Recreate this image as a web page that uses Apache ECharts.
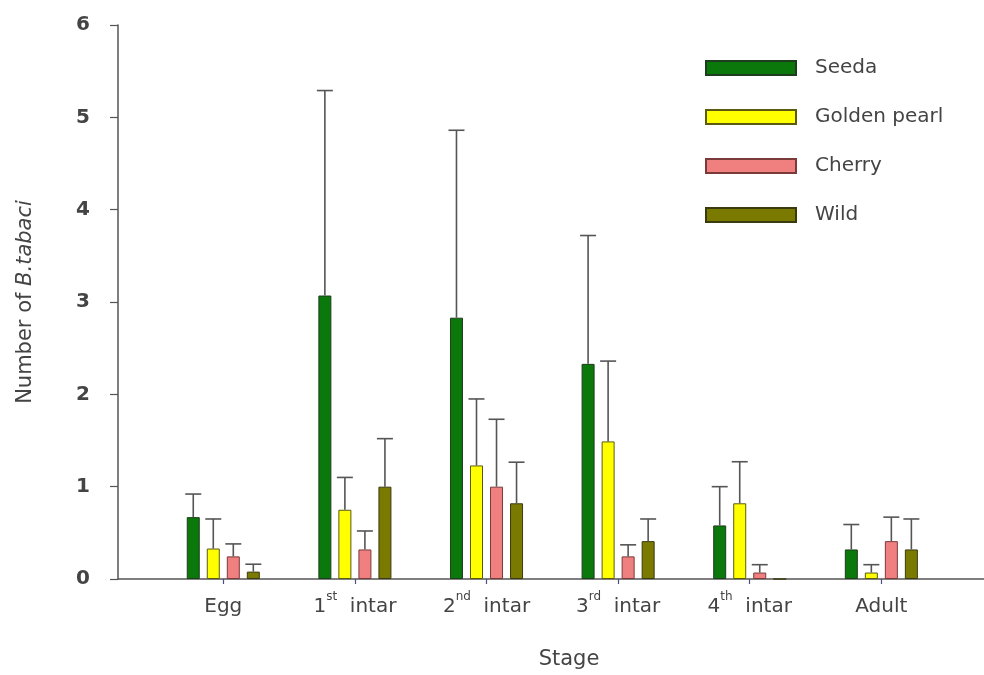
<!DOCTYPE html>
<html>
<head>
<meta charset="utf-8">
<script src="https://cdn.jsdelivr.net/npm/echarts@6/dist/echarts.min.js"></script>
<style>
html,body{margin:0;padding:0;background:#fff;}
#chart{width:984px;height:675px;}
</style>
</head>
<body>
<div id="chart"></div>
<script>
// ---- data ----
const stages = ['Egg', '1st intar', '2nd intar', '3rd intar', '4th intar', 'Adult'];
const stageLabels = ['{b|Egg}', '{b|1}{sup|st}{b|  intar}', '{b|2}{sup|nd}{b|  intar}', '{b|3}{sup|rd}{b|  intar}', '{b|4}{sup|th}{b|  intar}', '{b|Adult}'];
const seriesNames = ['Seeda', 'Golden pearl', 'Cherry', 'Wild'];
const seedaMean = [0.67, 3.07, 2.83, 2.33, 0.58, 0.32];
const seedaErr  = [0.25, 2.22, 2.03, 1.39, 0.42, 0.27];
const goldenMean = [0.33, 0.75, 1.23, 1.49, 0.82, 0.07];
const goldenErr  = [0.32, 0.35, 0.72, 0.87, 0.45, 0.085];
const cherryMean = [0.245, 0.32, 1.0, 0.245, 0.07, 0.41];
const cherryErr  = [0.135, 0.20, 0.73, 0.125, 0.085, 0.26];
const wildMean = [0.08, 1.0, 0.82, 0.41, 0, 0.32];
const wildErr  = [0.08, 0.52, 0.445, 0.24, 0, 0.33];
const yTicks = [0, 1, 2, 3, 4, 5, 6];

// ---- style ----
const FONT = 'DejaVu Sans';
const TEXT = '#444';
const colors = ['#0a780a', '#ffff00', '#f08080', '#7a7a00'];
const borders = ['#1e3d1e', '#5a5a10', '#7a3a3a', '#3a3a10'];
const BAR_W = 13;
const GAP_RATIO = 0.54;
const PITCH = BAR_W * (1 + GAP_RATIO);
const CAP = 8;

const means = [seedaMean, goldenMean, cherryMean, wildMean];
const errs = [seedaErr, goldenErr, cherryErr, wildErr];

function errRenderer(idx) {
  return function (params, api) {
    const x = api.value(0), m = api.value(1), e = api.value(2);
    if (!e) return null;
    const base = api.coord([x, m]);
    const top = api.coord([x, m + e]);
    const cx = base[0] + (idx - (seriesNames.length - 1) / 2) * PITCH;
    const st = { stroke: '#555', lineWidth: 1.6 };
    return {
      type: 'group',
      children: [
        { type: 'line', shape: { x1: cx, y1: base[1], x2: cx, y2: top[1] }, style: st },
        { type: 'line', shape: { x1: cx - CAP, y1: top[1], x2: cx + CAP, y2: top[1] }, style: st }
      ]
    };
  };
}

const series = [];
seriesNames.forEach((name, i) => {
  series.push({
    name: name,
    type: 'bar',
    barWidth: BAR_W,
    barGap: (GAP_RATIO * 100) + '%',
    itemStyle: { color: colors[i], borderColor: borders[i], borderWidth: 1 },
    data: means[i].map((v, k) => [k, v]),
    z: 2
  });
});
seriesNames.forEach((name, i) => {
  series.push({
    name: name + ' SE',
    type: 'custom',
    renderItem: errRenderer(i),
    encode: { x: 0, y: 1 },
    data: means[i].map((v, k) => [k, v, errs[i][k]]),
    z: 3,
    silent: true
  });
});

const chart = echarts.init(document.getElementById('chart'));
chart.setOption({
  backgroundColor: '#fff',
  animation: false,
  textStyle: { fontFamily: FONT },
  grid: { left: 118, right: 0, top: 25, bottom: 93 },
  legend: {
    data: seriesNames,
    orient: 'vertical',
    left: 700,
    top: 52,
    itemWidth: 90,
    itemHeight: 14,
    itemGap: 27,
    icon: 'rect',
    textStyle: { fontFamily: FONT, fontSize: 20, color: TEXT, lineHeight: 22, padding: [0, 0, 0, 14] }
  },
  xAxis: {
    type: 'value',
    min: -0.8,
    max: 5.78,
    name: 'Stage',
    nameLocation: 'middle',
    nameGap: 70,
    nameTextStyle: { fontFamily: FONT, fontSize: 21, color: TEXT, padding: [0, 0, 0, 36] },
    splitLine: { show: false },
    axisLine: { show: true, onZero: false, lineStyle: { color: '#555', width: 1.5 } },
    axisTick: { show: true, length: 5, customValues: stages.map((s, k) => k), lineStyle: { color: '#4a5080', width: 1.2 } },
    axisLabel: {
      customValues: stages.map((s, k) => k),
      formatter: function (v) { return stageLabels[Math.round(v)] || ''; },
      margin: 12,
      color: TEXT,
      rich: {
        b: { fontFamily: FONT, fontSize: 20, lineHeight: 32, color: TEXT },
        sup: { fontFamily: FONT, fontSize: 12, lineHeight: 13, verticalAlign: 'top', color: TEXT }
      }
    }
  },
  yAxis: {
    type: 'value',
    min: 0,
    max: 6,
    interval: 1,
    name: '{n|Number of }{i|B.tabaci}',
    nameLocation: 'middle',
    nameGap: 82,
    nameTextStyle: {
      rich: {
        n: { fontFamily: FONT, fontSize: 21, color: TEXT },
        i: { fontFamily: FONT, fontSize: 21, color: TEXT, fontStyle: 'italic' }
      }
    },
    splitLine: { show: false },
    axisLine: { show: true, onZero: false, lineStyle: { color: '#555', width: 1.5 } },
    axisTick: { show: true, length: 8, lineStyle: { color: '#555', width: 1.2 } },
    axisLabel: {
      margin: 28,
      fontFamily: FONT,
      fontSize: 20,
      fontWeight: 'bold',
      color: TEXT,
      formatter: function (v) { return yTicks.indexOf(v) >= 0 ? String(v) : ''; }
    }
  },
  series: series
});
</script>
</body>
</html>
